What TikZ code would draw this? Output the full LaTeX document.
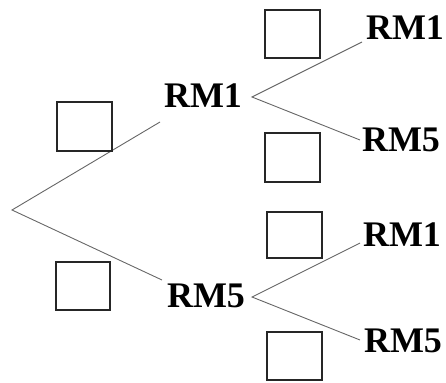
\documentclass[tikz,border=0pt]{standalone}
\usepackage{fontspec}
\setmainfont{Liberation Serif}
\begin{document}
\begin{tikzpicture}[x=1pt,y=-1pt,
  lbl/.style={inner sep=0pt,font=\fontsize{36}{36}\selectfont\bfseries},
  emptybox/.style={draw=black!85,line width=1.8pt},
  branch/.style={draw=black!60,line width=0.9pt}]
\useasboundingbox (0,0) rectangle (446,382);
% labels
\node[lbl] (a1) at (203,96) {RM1};
\node[lbl] (a5) at (206,296) {RM5};
\node[lbl] (b1) at (405,28) {RM1};
\node[lbl] (b5) at (401,140) {RM5};
\node[lbl] (c1) at (402,235) {RM1};
\node[lbl] (c5) at (403,341) {RM5};
% branch points and branch ends
\coordinate (root) at (12,210);
\coordinate (fa) at (252,97);
\coordinate (fb) at (252,297);
\coordinate (ea1) at (160,122);
\coordinate (ea5) at (162,280);
\coordinate (eb1) at (362,42);
\coordinate (eb5) at (360,140);
\coordinate (ec1) at (360,243);
\coordinate (ec5) at (360,340);
% branches
\draw[branch] (ea1) -- (root) -- (ea5);
\draw[branch] (eb1) -- (fa) -- (eb5);
\draw[branch] (ec1) -- (fb) -- (ec5);
% empty boxes
\draw[emptybox] (57,102) rectangle (112,151);
\draw[emptybox] (56,262) rectangle (110,310);
\draw[emptybox] (265,10) rectangle (320,58);
\draw[emptybox] (265,133) rectangle (320,182);
\draw[emptybox] (267,212) rectangle (322,258);
\draw[emptybox] (267,332) rectangle (322,380);
\end{tikzpicture}
\end{document}
